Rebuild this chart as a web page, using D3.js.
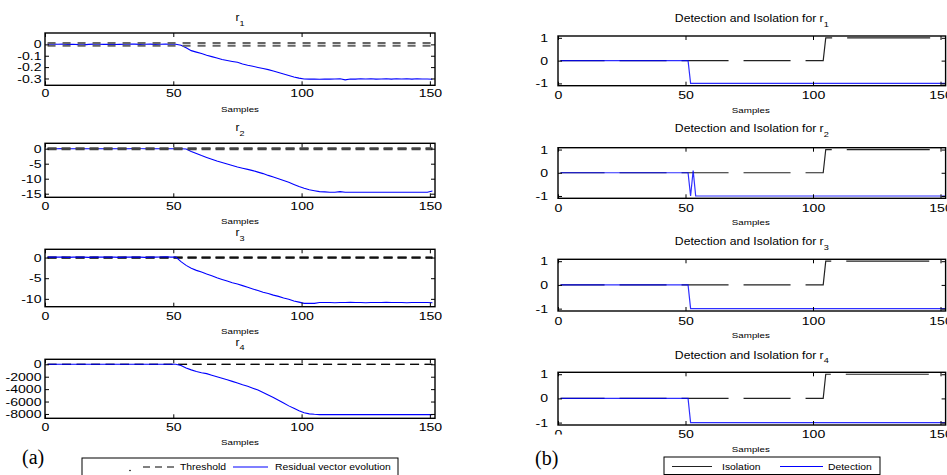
<!DOCTYPE html>
<html><head><meta charset="utf-8">
<script src="https://cdn.jsdelivr.net/npm/d3@7"></script>
<style>body{margin:0;background:#fff;} svg{display:block;}</style>
</head><body><svg id="c" width="947" height="475"></svg>
<script>
// ---------------- data ----------------
const samples = [1,3,5,7,9,11,13,15,17,19,21,23,25,27,29,31,33,35,37,39,41,43,45,47,49,51,53,55,57,59,61,63,65,67,69,71,73,75,77,79,81,83,85,87,89,91,93,95,97,99,101,103,105,107,109,111,113,115,117,119,121,123,125,127,129,131,133,135,137,139,141,143,145,147,149,151];
const r1 = [0.002,0.003,0.001,0.002,0.000,0.001,-0.002,-0.004,0.000,0.002,0.001,0.000,0.001,-0.001,0.000,0.001,0.003,0.002,0.000,0.001,0.002,0.000,0.001,0.002,0.001,0.001,
  -0.008,-0.030,-0.055,-0.068,-0.080,-0.095,-0.108,-0.120,-0.133,-0.142,-0.150,-0.158,-0.172,-0.183,-0.192,-0.203,-0.213,-0.222,-0.235,-0.248,-0.260,-0.273,-0.287,-0.297,-0.304,
  -0.306,-0.305,-0.307,-0.304,-0.306,-0.305,-0.303,-0.312,-0.304,-0.306,-0.303,-0.305,-0.302,-0.306,-0.304,-0.303,-0.306,-0.302,-0.305,-0.303,-0.306,-0.302,-0.305,-0.304,-0.307];
const r2 = [0,0,0,0.05,0,0,0,0,0,0,0,0,0,0,0,0,0,0.15,0.05,0,0,0,0,0,0,0,0,
  -0.1,-0.9,-1.6,-2.3,-2.9,-3.5,-4.1,-4.6,-5.1,-5.6,-6.1,-6.5,-6.9,-7.3,-7.8,-8.3,-8.9,-9.4,-10.0,-10.6,-11.2,-11.9,-12.6,-13.2,-13.7,-14.0,-14.3,-14.4,-14.5,-14.5,-14.3,-14.5,
  -14.5,-14.5,-14.5,-14.5,-14.5,-14.5,-14.5,-14.5,-14.5,-14.5,-14.5,-14.5,-14.5,-14.5,-14.5,-14.5,-14.1];
const r3 = [0.1,0.1,0.15,0.1,0.05,0.1,0.1,0.1,0.05,0.1,0.1,0.15,0.1,0.1,0.05,0.1,0.1,0.15,0.1,0.05,0.1,0.1,0.15,0.2,0.1,0.1,
  -1.0,-1.9,-2.6,-3.1,-3.5,-4.0,-4.4,-4.9,-5.3,-5.7,-6.1,-6.4,-6.8,-7.2,-7.6,-8.0,-8.4,-8.7,-9.1,-9.4,-9.8,-10.1,-10.5,-10.8,-11.1,-11.1,-11.1,-10.9,
  -10.9,-10.9,-10.95,-10.9,-10.9,-10.85,-10.9,-10.9,-10.95,-10.9,-10.9,-10.9,-10.85,-10.9,-10.9,-10.9,-10.95,-10.9,-10.9,-10.9,-10.9,-10.95];
const r4 = [0,0,0,0,0,0,0,0,0,0,0,0,0,0,0,0,0,0,0,0,0,0,0,0,0,0,
  -200,-600,-900,-1150,-1350,-1500,-1750,-2000,-2250,-2500,-2750,-3000,-3300,-3550,-3850,-4150,-4550,-4950,-5350,-5800,-6250,-6700,-7100,-7500,-7800,-7980,-8050,-8100,
  -8100,-8100,-8100,-8100,-8100,-8100,-8100,-8100,-8100,-8100,-8100,-8100,-8100,-8100,-8100,-8100,-8100,-8100,-8100,-8100,-8100,-8100];
const residuals = [r1, r2, r3, r4];
const thresholdLevel = [0.012, 0.15, 0.05, 15];   // threshold drawn at +/- level
const thresholdX = [1, 151];
const subscripts = ["1", "2", "3", "4"];
const xTicks = [0, 50, 100, 150];
const yTicksLeft = [[0,-0.1,-0.2,-0.3],[0,-5,-10,-15],[0,-5,-10],[0,-2000,-4000,-6000,-8000]];
const yTicksRight = [-1, 0, 1];
const isoX = [1, 104, 105, 152];
const isoY = [0, 0, 1, 1];
const detX = [[1,51,52,152],[1,51,52,53,54,152],[1,51,52,152],[1,51,52,152]];
const detY = [[0,0,-1,-1],[0,0,-1,0.1,-1,-1],[0,0,-1,-1],[0,0,-1,-1]];
const legendA = ["Threshold", "Residual vector evolution"];
const legendB = ["Isolation", "Detection"];

// ---------------- drawing ----------------
const FONT = "'Liberation Sans', Arial, Helvetica, sans-serif";
const BLUE = "#0000ff";
const svg = d3.select("#c");
svg.append("rect").attr("width",947).attr("height",475).attr("fill","#fff");

const leftLayout = [
  {top:33,    bottom:85.3,  yDomain:[-0.36,0.1],  titleY:21,    pad:3.5, order:"thrTop",
   thr:{c:"#666", w:2,   d:"8,7"}},
  {top:143.3, bottom:197.3, yDomain:[-16.2,1.8],  titleY:131,   pad:5,   order:"thrTop",
   thr:{c:"#444", w:2.2, d:"9,5"}},
  {top:249.3, bottom:306.7, yDomain:[-11.9,2.0],  titleY:236,   pad:5.5, order:"lineTop",
   thr:{c:"#111", w:1.8, d:"9,5"}},
  {top:359.3, bottom:418.3, yDomain:[-8700,805],  titleY:345.5, pad:5,   order:"lineTop",
   thr:{c:"#000", w:1,   d:"9,5.5"}}
];
const rightLayout = [
  {top:36,    bottom:85.7,  titleY:22,    pad:5.5},
  {top:147.7, bottom:198.3, titleY:132,   pad:6},
  {top:259.3, bottom:311,   titleY:245,   pad:6},
  {top:372.3, bottom:425,   titleY:358.5, pad:5.5}
];
const LEFT = {x0:45, x1:435};
const RIGHT = {x0:558, x1:945.6};
const TICK_SX = 1.28;
const TICK_FS = 11;

function stretchText(sel, sx, x, y) {
  sel.attr("transform", `translate(${x},${y}) scale(${sx},1)`);
}

function axes(g, x, y, T, B, L, R, yTicks, yGap, xPad) {
  const fmt = d => String(d);
  const ab = g.append("g").attr("transform",`translate(0,${B})`)
    .call(d3.axisBottom(x).tickValues(xTicks).tickSize(-4).tickPadding(xPad).tickFormat(fmt));
  const at = g.append("g").attr("transform",`translate(0,${T})`)
    .call(d3.axisTop(x).tickValues(xTicks).tickSize(-4).tickFormat(""));
  const al = g.append("g").attr("transform",`translate(${L},0)`)
    .call(d3.axisLeft(y).tickValues(yTicks).tickSize(-4).tickPadding(yGap / TICK_SX).tickFormat(fmt));
  const ar = g.append("g").attr("transform",`translate(${R},0)`)
    .call(d3.axisRight(y).tickValues(yTicks).tickSize(-4).tickFormat(""));
  [ab,at,al,ar].forEach(a => {
    a.select(".domain").remove();
    a.selectAll(".tick line").attr("stroke","#000").attr("stroke-width",1);
    a.selectAll(".tick text").attr("font-family",FONT).attr("font-size",TICK_FS).attr("fill","#000")
      .attr("transform",`scale(${TICK_SX},1)`);
  });
  g.append("rect").attr("x",L).attr("y",T).attr("width",R-L).attr("height",B-T)
    .attr("fill","none").attr("stroke","#000").attr("stroke-width",1.4);
}

function title(g, cx, y, main, sub, size, sx) {
  const t = g.append("text").attr("font-family",FONT).attr("font-size",size)
    .attr("text-anchor","middle").attr("fill","#000");
  stretchText(t, sx, cx, y);
  t.append("tspan").text(main);
  t.append("tspan").attr("font-size",size*0.75).attr("dy",size*0.45).text(sub);
}

function xlabel(g, cx, y) {
  const t = g.append("text").attr("font-family",FONT).attr("font-size",8)
    .attr("text-anchor","middle").attr("fill","#000").text("Samples");
  stretchText(t, 1.22, cx, y);
}

// ---------- left panels ----------
leftLayout.forEach((P, i) => {
  const g = svg.append("g");
  const x = d3.scaleLinear().domain([0,152]).range([LEFT.x0, LEFT.x1]);
  const y = d3.scaleLinear().domain(P.yDomain).range([P.bottom, P.top]);
  const cid = "clipL" + i;
  g.append("clipPath").attr("id",cid).append("rect")
    .attr("x",LEFT.x0).attr("y",P.top).attr("width",LEFT.x1-LEFT.x0).attr("height",P.bottom-P.top);
  const plot = g.append("g").attr("clip-path",`url(#${cid})`);
  const line = d3.line().x((d,k) => x(samples[k])).y(d => y(d));
  const drawLine = () => plot.append("path").datum(residuals[i]).attr("d",line)
    .attr("fill","none").attr("stroke",BLUE).attr("stroke-width",1.1);
  const drawThr = () => [thresholdLevel[i], -thresholdLevel[i]].forEach(lv => {
    plot.append("path").datum(thresholdX)
      .attr("d", d3.line().x(d => x(d)).y(() => y(lv)))
      .attr("fill","none").attr("stroke",P.thr.c).attr("stroke-width",P.thr.w)
      .attr("stroke-dasharray",P.thr.d);
  });
  if (P.order === "thrTop") { drawLine(); drawThr(); } else { drawThr(); drawLine(); }
  axes(g, x, y, P.top, P.bottom, LEFT.x0, LEFT.x1, yTicksLeft[i], 3.5, P.pad);
  title(g, (LEFT.x0+LEFT.x1)/2, P.titleY, "r", subscripts[i], 10.5, 1.15);
  xlabel(g, (LEFT.x0+LEFT.x1)/2, P.bottom + 27);
});

// ---------- right panels ----------
rightLayout.forEach((P, i) => {
  const g = svg.append("g");
  const x = d3.scaleLinear().domain([0,152]).range([RIGHT.x0, RIGHT.x1]);
  const y = d3.scaleLinear().domain([-1.1,1.08]).range([P.bottom, P.top]);
  const cid = "clipR" + i;
  g.append("clipPath").attr("id",cid).append("rect")
    .attr("x",RIGHT.x0).attr("y",P.top).attr("width",RIGHT.x1-RIGHT.x0).attr("height",P.bottom-P.top);
  const plot = g.append("g").attr("clip-path",`url(#${cid})`);
  const iso = isoX.map((v,k) => [v, isoY[k]]);
  plot.append("path").datum(iso).attr("d", d3.line().x(d => x(d[0])).y(d => y(d[1])))
    .attr("fill","none").attr("stroke","#222").attr("stroke-width",1.2)
    .attr("stroke-dasharray","44,15,47,15,47,15,47,15,47,15,83,60");
  const det = detX[i].map((v,k) => [v, detY[i][k]]);
  plot.append("path").datum(det).attr("d", d3.line().x(d => x(d[0])).y(d => y(d[1])))
    .attr("fill","none").attr("stroke",BLUE).attr("stroke-width",1.2).attr("stroke-opacity",0.82);
  axes(g, x, y, P.top, P.bottom, RIGHT.x0, RIGHT.x1, yTicksRight, 10, P.pad);
  title(g, (RIGHT.x0+RIGHT.x1)/2, P.titleY, "Detection and Isolation for r", subscripts[i], 10.5, 1.16);
  xlabel(g, (RIGHT.x0+RIGHT.x1)/2 - 1, P.bottom + 27);
});
// partially hidden "0" label under the last right panel
svg.append("rect").attr("x",551).attr("y",434.5).attr("width",14).attr("height",7).attr("fill","#fff");

// ---------- legends ----------
function legText(x, y, s) {
  const t = svg.append("text").attr("font-family",FONT).attr("font-size",8.5).attr("fill","#000").text(s);
  t.attr("transform",`translate(${x},${y}) scale(1.22,1)`);
}
// (a)
svg.append("rect").attr("x",82).attr("y",458).attr("width",316).attr("height",20)
  .attr("fill","#fff").attr("stroke","#000").attr("stroke-width",1);
svg.append("circle").attr("cx",130).attr("cy",470.5).attr("r",0.8).attr("fill","#000");
svg.append("line").attr("x1",143).attr("x2",175).attr("y1",467).attr("y2",467)
  .attr("stroke","#000").attr("stroke-width",1).attr("stroke-dasharray","7,5");
legText(180, 470, legendA[0]);
svg.append("line").attr("x1",233).attr("x2",268).attr("y1",467).attr("y2",467)
  .attr("stroke",BLUE).attr("stroke-width",1.1);
legText(275, 470, legendA[1]);
svg.append("text").attr("x",22).attr("y",464).attr("font-family","'Liberation Serif','Times New Roman',serif")
  .attr("font-size",20).attr("fill","#000").text("(a)");
// (b)
svg.append("rect").attr("x",664).attr("y",457).attr("width",216).attr("height",17.5)
  .attr("fill","#fff").attr("stroke","#000").attr("stroke-width",1);
svg.append("line").attr("x1",672).attr("x2",712).attr("y1",466.5).attr("y2",466.5)
  .attr("stroke","#222").attr("stroke-width",1.1);
legText(722, 469.5, legendB[0]);
svg.append("line").attr("x1",780).attr("x2",823).attr("y1",466.5).attr("y2",466.5)
  .attr("stroke",BLUE).attr("stroke-width",1.1);
legText(828, 469.5, legendB[1]);
svg.append("text").attr("x",535).attr("y",465).attr("font-family","'Liberation Serif','Times New Roman',serif")
  .attr("font-size",20).attr("fill","#000").text("(b)");
</script>
</body></html>
